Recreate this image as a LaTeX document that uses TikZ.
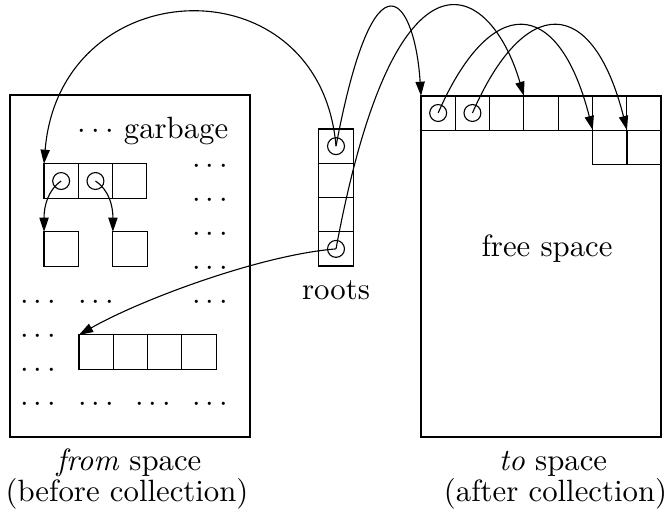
\documentclass[tikz,border=0pt]{standalone}
\usetikzlibrary{arrows.meta}
\begin{document}
\begin{tikzpicture}[x=0.325pt,y=-0.325pt,line width=0.36pt,
  cell/.style={draw,minimum size=11.15pt,inner sep=0pt,outer sep=0pt},
  ptr/.style={draw,circle,minimum size=5.5pt,inner sep=0pt,outer sep=0pt},
  area/.style={draw,minimum width=78pt,inner sep=0pt,outer sep=0pt},
  etc/.style={anchor=base,inner sep=0pt},
  txt/.style={anchor=base,inner sep=0pt},
  link/.style={-{Triangle[length=4.6pt,width=3pt]}}]
\useasboundingbox (0,0) rectangle (670,515);

% the two semispaces
\node[area,minimum height=111.15pt] (from) at (130,266) {};
\node[area,minimum height=110.8pt] (to) at (541,266.5) {};

% from space: reachable and unreachable objects
\foreach \i in {1,2,3} \node[cell] (f\i) at ({44+34.3*(\i-0.5)},181) {};
\node[cell] (l1) at (61.2,249) {};
\node[cell] (l2) at (130,249) {};
\foreach \i in {1,...,4} \node[cell] (m\i) at ({79+34.3*(\i-0.5)},352) {};
\node[ptr] (fp1) at (f1) {};
\node[ptr] (fp2) at (f2) {};

% garbage marks
\node[txt] (garb) at (153,138) {$\cdots$ garbage};
\foreach \y [count=\k] in {166,200,234,268,302,404}
  \node[etc] (ra\k) at (210,\y+7.6) {$\cdots$};
\foreach \x [count=\k] in {38,96}
  \node[etc] (rb\k) at (\x,302+7.6) {$\cdots$};
\foreach \y [count=\k] in {336,370}
  \node[etc] (rc\k) at (38,\y+7.6) {$\cdots$};
\foreach \x [count=\k] in {38,96,153}
  \node[etc] (rd\k) at (\x,404+7.6) {$\cdots$};

% root set
\foreach \i in {1,...,4} \node[cell] (r\i) at (336,{129+34.25*(\i-0.5)}) {};
\node[ptr] (rp1) at (r1) {};
\node[ptr] (rp4) at (r4) {};
\node[txt] (rootlbl) at (336,299) {roots};

% to space: copied objects
\foreach \i in {1,...,7} \node[cell] (t\i) at ({421+34.29*(\i-0.5)},113) {};
\node[cell] (u1) at (609.9,147.2) {};
\node[cell] (u2) at (644.1,147.2) {};
\node[ptr] (tp1) at (t1) {};
\node[ptr] (tp2) at (t2) {};
\node[txt] (freelbl) at (547,256.7) {free space};

% captions
\node[txt] (fromlbl) at (129,470.7) {\emph{from} space};
\node[txt] (fromsub) at (127,501.5) {(before collection)};
\node[txt] (tolbl) at (553,470.7) {\emph{to} space};
\node[txt] (tosub) at (555.5,501.5) {(after collection)};

% pointers
\draw[link] (rp1.center) .. controls (320,-40) and (60,-30) .. (f1.north west);
\draw[link] (rp1.center) .. controls (375,-60) and (415,0) .. (t1.north west);
\draw[link] (rp4.center) .. controls (395,-70) and (490,-20) .. (t4.north west);
\draw[link] (rp4.center) .. controls (260,255) and (140,300) .. (m1.north west);
\draw[link] (tp1.center) .. controls (490,-6) and (558,-6) .. (u1.north west);
\draw[link] (tp2.center) .. controls (524.3,-6) and (592.3,-6) .. (u2.north west);
\draw[link] (fp1.center) .. controls (48,190) and (44,206) .. (l1.north west);
\draw[link] (fp2.center) .. controls (109,190) and (113,206) .. (l2.north west);
\end{tikzpicture}
\end{document}
